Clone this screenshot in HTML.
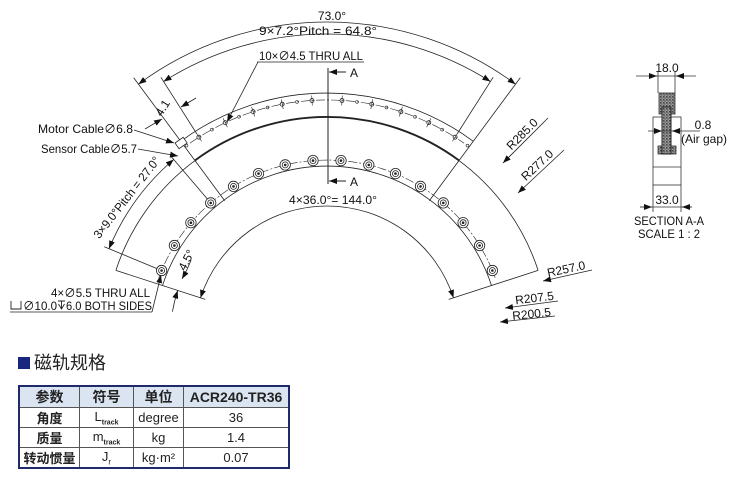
<!DOCTYPE html>
<html><head><meta charset="utf-8">
<style>
html,body{margin:0;padding:0;background:#fff;}
body{width:741px;height:480px;overflow:hidden;position:relative;font-family:"Liberation Sans","Noto Sans CJK SC",sans-serif;}
svg text{font-family:"Liberation Sans","Noto Sans CJK SC",sans-serif;fill:#111;}
.title{position:absolute;left:18px;top:349px;font-size:18px;color:#222;}
.title span{display:inline-block;width:12px;height:12px;background:#1a2580;margin-right:4px;vertical-align:0px;}
table{position:absolute;left:18px;top:385px;border-collapse:collapse;font-size:13px;color:#222;}
td{border:1px solid #555;height:19px;padding:0;text-align:center;}
table{border:2px solid #1f2a6b;}
tr.h td{background:#dbe5f1;font-weight:bold;font-size:14px;}
</style></head><body>
<svg id="s" width="741" height="480" viewBox="0 0 741 480" style="position:absolute;left:0;top:0">
<defs>
<marker id="ar" viewBox="0 0 8 6" refX="8" refY="3" markerWidth="8" markerHeight="6" markerUnits="userSpaceOnUse" orient="auto-start-reverse"><path d="M0,0L8,3L0,6z" fill="#111"/></marker>
<pattern id="ht" width="3" height="3" patternUnits="userSpaceOnUse"><rect width="3" height="3" fill="#999"/><rect width="1.5" height="1.5" fill="#444"/><rect x="1.5" y="1.5" width="1" height="1" fill="#333"/></pattern>
</defs>
<g id="g" fill="none" stroke="#222" stroke-width="0.8"></g>

<text x="332" y="20" font-size="12" text-anchor="middle">73.0°</text>
<text x="318" y="35" font-size="12" text-anchor="middle" textLength="118" lengthAdjust="spacingAndGlyphs">9×7.2°Pitch = 64.8°</text>
<text x="259" y="60" font-size="12" textLength="104" lengthAdjust="spacingAndGlyphs">10×∅4.5 THRU ALL</text>
<line x1="257" y1="62" x2="364" y2="62" stroke="#222" stroke-width="0.8"/>
<line x1="258" y1="62" x2="227" y2="122" stroke="#222" stroke-width="0.8" marker-end="url(#ar)"/>
<line x1="328" y1="68" x2="328" y2="184" stroke="#222" stroke-width="1"/>
<line x1="346" y1="72" x2="329" y2="72" stroke="#222" stroke-width="1" marker-end="url(#ar)"/>
<line x1="346" y1="181" x2="329" y2="181" stroke="#222" stroke-width="1" marker-end="url(#ar)"/>
<text x="350" y="77" font-size="12">A</text>
<text x="350" y="186" font-size="12">A</text>
<text x="333" y="204" font-size="12" text-anchor="middle" textLength="88" lengthAdjust="spacingAndGlyphs">4×36.0°= 144.0°</text>
<text x="38" y="133" font-size="12" textLength="95" lengthAdjust="spacingAndGlyphs">Motor Cable∅6.8</text>
<text x="41" y="153" font-size="12" textLength="96" lengthAdjust="spacingAndGlyphs">Sensor Cable∅5.7</text>
<line x1="134" y1="130" x2="174" y2="143" stroke="#222" stroke-width="0.8" marker-end="url(#ar)"/>
<line x1="138" y1="149" x2="178" y2="156" stroke="#222" stroke-width="0.8" marker-end="url(#ar)"/>
<rect x="0" y="0" width="10" height="7" fill="#fff" stroke="#222" stroke-width="0.8" transform="translate(175,143) rotate(-35)"/>
<text x="51" y="297" font-size="12" textLength="99" lengthAdjust="spacingAndGlyphs">4×∅5.5 THRU ALL</text>
<path d="M11,301 V309 H21 V301" fill="none" stroke="#222" stroke-width="0.9"/>
<text x="23" y="310" font-size="12" textLength="34" lengthAdjust="spacingAndGlyphs">∅10.0</text>
<path d="M58,301 H65 M61.5,301 V309 M58.5,304 L61.5,309 L64.5,304" fill="none" stroke="#222" stroke-width="0.9"/>
<text x="66" y="310" font-size="12" textLength="86" lengthAdjust="spacingAndGlyphs">6.0 BOTH SIDES</text>
<line x1="10" y1="312" x2="152" y2="312" stroke="#222" stroke-width="0.8"/>
<line x1="152" y1="312" x2="161" y2="275" stroke="#222" stroke-width="0.8" marker-end="url(#ar)"/>
<text font-size="12" transform="translate(130,200) rotate(-52)" text-anchor="middle" textLength="100" lengthAdjust="spacingAndGlyphs">3×9.0°Pitch = 27.0°</text>
<text font-size="12" transform="translate(190,262) rotate(-62)" text-anchor="middle">4.5°</text>
<text font-size="12" transform="translate(166,110) rotate(-58)" text-anchor="middle">4.1</text>
<line x1="145" y1="129" x2="162" y2="119" stroke="#222" stroke-width="0.8" marker-end="url(#ar)"/>
<line x1="196" y1="98" x2="181" y2="107" stroke="#222" stroke-width="0.8" marker-end="url(#ar)"/>
<line x1="503" y1="163" x2="548" y2="118" stroke="#222" stroke-width="0.8" marker-start="url(#ar)"/>
<text font-size="12" transform="translate(525,137) rotate(-45)" text-anchor="middle">R285.0</text>
<line x1="518" y1="193" x2="564" y2="150" stroke="#222" stroke-width="0.8" marker-start="url(#ar)"/>
<text font-size="12" transform="translate(540,168) rotate(-43)" text-anchor="middle">R277.0</text>
<line x1="543" y1="281" x2="592" y2="270" stroke="#222" stroke-width="0.8" marker-start="url(#ar)"/>
<text font-size="12" transform="translate(567,273) rotate(-12)" text-anchor="middle">R257.0</text>
<line x1="505" y1="308" x2="558" y2="301" stroke="#222" stroke-width="0.8" marker-start="url(#ar)"/>
<text font-size="12" transform="translate(535,302) rotate(-7)" text-anchor="middle">R207.5</text>
<line x1="500" y1="322" x2="555" y2="316" stroke="#222" stroke-width="0.8" marker-start="url(#ar)"/>
<text font-size="12" transform="translate(532,318) rotate(-6)" text-anchor="middle">R200.5</text>

<g fill="none" stroke="#333" stroke-width="0.8">
<line x1="636" y1="76" x2="696" y2="76"/>
<line x1="650" y1="76" x2="657" y2="76" marker-end="url(#ar)"/>
<line x1="684" y1="76" x2="676" y2="76" marker-end="url(#ar)"/>
<line x1="658" y1="72" x2="658" y2="93"/><line x1="675" y1="72" x2="675" y2="93"/>
<rect x="653" y="117" width="28" height="68"/>
<line x1="653" y1="167" x2="681" y2="167"/>
<rect x="658" y="146" width="18" height="8" fill="url(#ht)"/>
<rect x="659" y="93" width="16" height="21" fill="url(#ht)"/>
<rect x="662" y="107" width="9" height="47" fill="url(#ht)" stroke="#222" stroke-width="1"/>
<line x1="648" y1="131" x2="700" y2="131"/>
<line x1="655" y1="131" x2="662" y2="131" marker-end="url(#ar)"/>
<line x1="680" y1="131" x2="672" y2="131" marker-end="url(#ar)"/>
<line x1="653" y1="185" x2="653" y2="212"/><line x1="681" y1="185" x2="681" y2="212"/>
<line x1="640" y1="207" x2="692" y2="207"/>
<line x1="640" y1="207" x2="652" y2="207" marker-end="url(#ar)"/>
<line x1="692" y1="207" x2="682" y2="207" marker-end="url(#ar)"/>
</g>
<text x="667" y="72" font-size="12" text-anchor="middle">18.0</text>
<text x="703" y="129" font-size="12" text-anchor="middle">0.8</text>
<text x="704" y="143" font-size="12" text-anchor="middle">(Air gap)</text>
<text x="667" y="204" font-size="12" text-anchor="middle">33.0</text>
<text x="669" y="225" font-size="12" text-anchor="middle" textLength="70" lengthAdjust="spacingAndGlyphs">SECTION A-A</text>
<text x="669" y="238" font-size="12" text-anchor="middle" textLength="62" lengthAdjust="spacingAndGlyphs">SCALE 1 : 2</text>
</svg>

<div class="title"><span></span>磁轨规格</div>
<table>
<tr class="h"><td style="width:59px">参数</td><td style="width:53px">符号</td><td style="width:49px">单位</td><td style="width:104px">ACR240-TR36</td></tr>
<tr><td style="font-weight:bold">角度</td><td>L<sub style="font-size:7px;font-weight:bold">track</sub></td><td>degree</td><td>36</td></tr>
<tr><td style="font-weight:bold">质量</td><td>m<sub style="font-size:7px;font-weight:bold">track</sub></td><td>kg</td><td>1.4</td></tr>
<tr><td style="font-weight:bold">转动惯量</td><td>J<sub style="font-size:8px">r</sub></td><td>kg·m²</td><td>0.07</td></tr>
</table>

<script>
(function(){
var cx=327,cy=339,s="";
function P(r,a){a*=Math.PI/180;return [(cx+r*Math.cos(a)).toFixed(1),(cy-r*Math.sin(a)).toFixed(1)];}
function arc(r,a1,a2,attr){var p=P(r,a1),q=P(r,a2);s+='<path d="M'+p+' A'+r+','+r+' 0 '+((a1-a2)>180?1:0)+' 1 '+q+'" '+(attr||'')+'/>';}
function rad(a,r1,r2,attr){var p=P(r1,a),q=P(r2,a);s+='<line x1="'+p[0]+'" y1="'+p[1]+'" x2="'+q[0]+'" y2="'+q[1]+'" '+(attr||'')+'/>';}
var DD='stroke-dasharray="9,2,2,2" stroke-width="0.6"';
arc(246,126.5,53.5);
rad(53.5,172,325);rad(126.5,172,325);
arc(222,162,18);
arc(222,126.5,53.5,'stroke-width="1.9"');
arc(173,162,18);
rad(18,128,222);rad(162,128,222);
arc(239,125,55,DD);
for(var k=0;k<10;k++){var a=57.6+7.2*k,p=P(239,a);
 s+='<circle cx="'+p[0]+'" cy="'+p[1]+'" r="2" />';rad(a,234,244,'stroke-width="0.6"');}
for(var k=0;k<11;k++){var a=54+7.2*k;if(Math.abs(a-90)<1)continue;var p=P(239,a);s+='<circle cx="'+p[0]+'" cy="'+p[1]+'" r="1.4" stroke-width="0.6"/>';}
arc(179,160,20,DD);
for(var k=0;k<16;k++){var a=22.5+9*k,p=P(179,a);
 s+='<circle cx="'+p[0]+'" cy="'+p[1]+'" r="5.2" fill="#fff"/><circle cx="'+p[0]+'" cy="'+p[1]+'" r="3"/><circle cx="'+p[0]+'" cy="'+p[1]+'" r="0.9" fill="#222"/>';}
arc(133,162,18,'marker-start="url(#ar)" marker-end="url(#ar)"');
arc(317,126.5,53.5,'marker-start="url(#ar)" marker-end="url(#ar)"');
arc(305,122.4,57.6,'marker-start="url(#ar)" marker-end="url(#ar)"');
rad(57.6,243,310);rad(122.4,243,310);
arc(236,157.5,130.5,'marker-start="url(#ar)" marker-end="url(#ar)"');
rad(130.5,184,241);rad(157.5,184,241);
arc(157,150,157.5,'marker-end="url(#ar)"');
arc(157,170,162,'marker-end="url(#ar)"');
document.getElementById('g').innerHTML=s;
})();
</script>
</body></html>
